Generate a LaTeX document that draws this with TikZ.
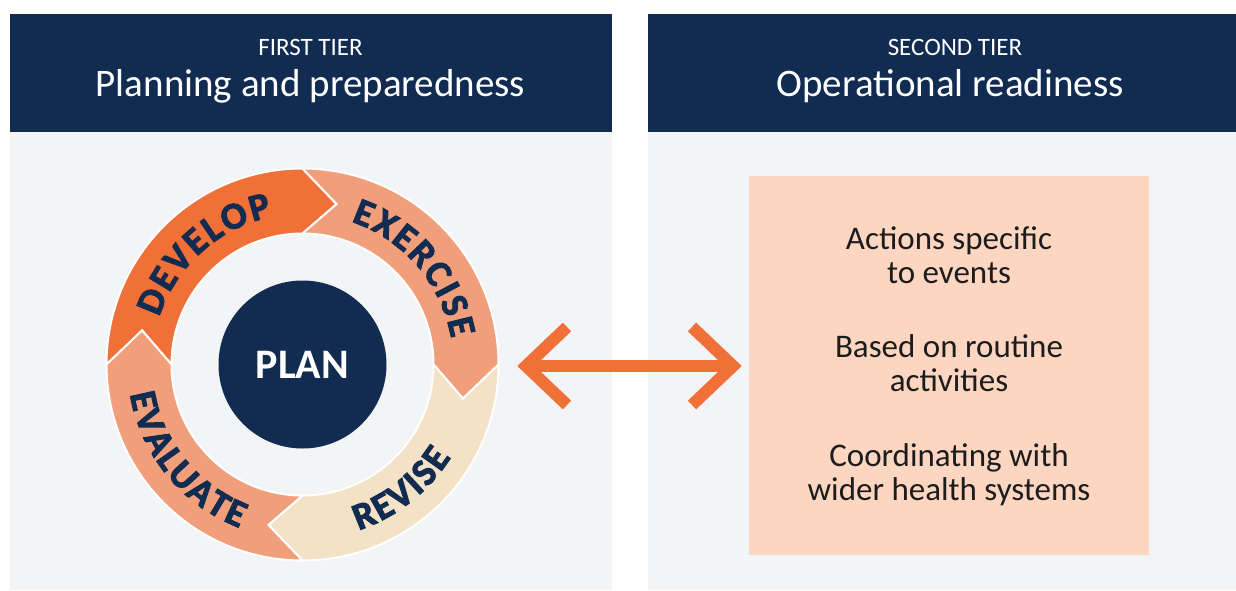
\documentclass[tikz,border=0pt]{standalone}
\usepackage{fontspec}
\setmainfont{Carlito}
\newfontfamily\ringfont{Carlito Bold}[FakeBold=2.4]
\newfontfamily\planfont{Carlito Bold}
\usetikzlibrary{decorations.text}
\definecolor{navy}{HTML}{122C51}
\definecolor{orangeA}{HTML}{F07038}
\definecolor{salmon}{HTML}{F19F7B}
\definecolor{cream}{HTML}{F3E2C6}
\definecolor{peach}{HTML}{FDD6C1}
\definecolor{panelgrey}{HTML}{F3F4F6}
\definecolor{darktext}{HTML}{1C1C1C}
\tikzset{
  header/.style={fill=navy, draw=none},
  panelbody/.style={fill=panelgrey, draw=none},
  segment/.style={draw=white, line width=2pt, line join=miter},
  tierlabel/.style={text=white, font=\fontsize{25}{28}\selectfont, anchor=base},
  tiertitle/.style={text=white, font=\fontsize{39}{46}\selectfont, anchor=base},
  boxline/.style={text=darktext, font=\fontsize{33}{34}\selectfont, anchor=base},
  arrowline/.style={draw=orangeA, line width=12pt, line join=miter},
}
\newcommand{\ringfmt}{\ringfont\fontsize{38}{42}\selectfont\color{navy}\kern2.2pt}
\newcommand{\ringseg}[2]{%
  \path[segment, fill=#2] (#1:196) arc[start angle=#1, end angle={#1-90}, radius=196]
    -- ({#1-102}:164) -- ({#1-90}:131) arc[start angle={#1-90}, end angle=#1, radius=131]
    -- ({#1-12}:164) -- cycle;}
\newcommand{\ringtop}[2]{% clockwise label, tops outward
  \path[decorate, decoration={text along path, text align=center,
      text={|\ringfmt|#2}}]
    ({#1+60}:151) arc[start angle={#1+60}, end angle={#1-60}, radius=151];}
\newcommand{\ringbottom}[2]{% counterclockwise label, tops inward
  \path[decorate, decoration={text along path, text align=center,
      text={|\ringfmt|#2}}]
    ({#1-60}:175) arc[start angle={#1-60}, end angle={#1+60}, radius=175];}
\begin{document}
\begin{tikzpicture}[x=1pt, y=-1pt]
\useasboundingbox (0,0) rectangle (1236,590);
\fill[white] (0,0) rectangle (1236,590);
% panels
\path[panelbody] (10,132) rectangle (612,590);
\path[header] (10,14) rectangle (612,132);
\path[panelbody] (648,132) rectangle (1236,590);
\path[header] (648,14) rectangle (1236,132);
\node[tierlabel] (t1) at (310.5,55) {FIRST TIER};
\node[tiertitle] (h1) at (310.5,96.5) {Planning and preparedness};
\node[tierlabel] (t2) at (955,55) {SECOND TIER};
\node[tiertitle] (h2) at (950,96.5) {Operational readiness};
% cycle
\begin{scope}[shift={(302.5,364.5)}, y=1pt]
  \ringseg{180}{orangeA}
  \ringseg{90}{salmon}
  \ringseg{0}{cream}
  \ringseg{270}{salmon}
  \ringtop{132}{DEVELOP}
  \ringtop{41}{EXERCISE}
  \ringbottom{-52}{REVISE}
  \ringbottom{219}{EVALUATE}
  \node[circle, fill=navy, minimum size=168pt, inner sep=0pt, text=white,
        font=\planfont\fontsize{42}{46}\selectfont] (plan) at (0,0) {PLAN};
\end{scope}
% right box
\node[fill=peach, minimum width=400pt, minimum height=379pt, inner sep=0pt] (box) at (949,365.5) {};
\node[boxline] (b1) at (949,249) {Actions specific};
\node[boxline] (b1b) at (949,283) {to events};
\node[boxline] (b2) at (949,357) {Based on routine};
\node[boxline] (b2b) at (949,391.5) {activities};
\node[boxline] (b3) at (949,466) {Coordinating with};
\node[boxline] (b3b) at (949,500) {wider health systems};
% double arrow
\coordinate (arL) at (526,366);
\coordinate (arR) at (733,366);
\draw[arrowline] (arL) -- (arR);
\draw[arrowline] (arL) ++(41,-39) -- (arL) -- ++(41,39);
\draw[arrowline] (arR) ++(-41,-39) -- (arR) -- ++(-41,39);
\end{tikzpicture}
\end{document}
